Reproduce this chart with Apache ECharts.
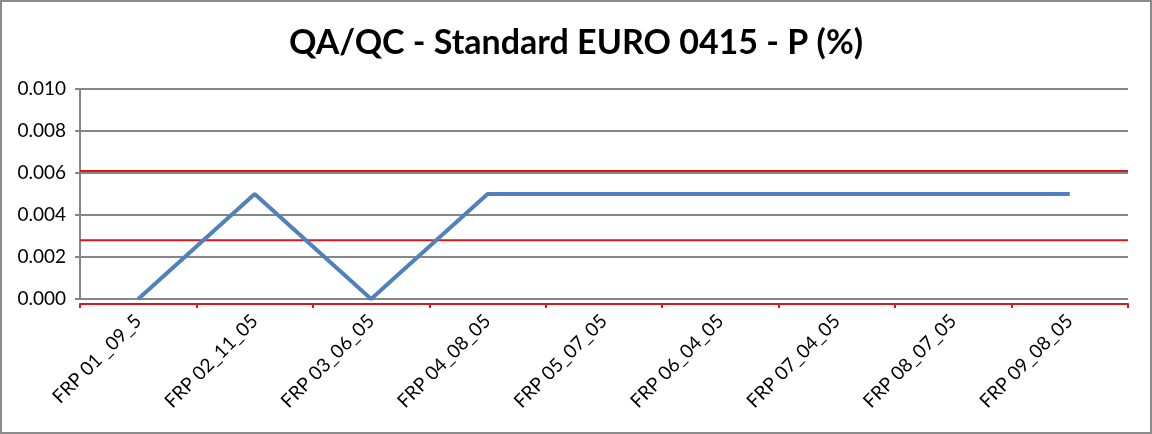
<!DOCTYPE html>
<html>
<head>
<meta charset="utf-8">
<script src="https://cdn.jsdelivr.net/npm/echarts@6/dist/echarts.min.js"></script>
<style>
    html, body { margin: 0; padding: 0; background: #fff; }
    #chart { width: 1152px; height: 434px; box-sizing: border-box; border: 2px solid #8c8c8c; }
</style>
</head>
<body>
<div id="chart"></div>
<script>
// 样品批次
const categories = ['FRP 01 _09_5', 'FRP 02_11_05', 'FRP 03_06_05', 'FRP 04_08_05', 'FRP 05_07_05',
    'FRP 06_04_05', 'FRP 07_04_05', 'FRP 08_07_05', 'FRP 09_08_05']
// 测定值 P (%)
const values = [0.000, 0.005, 0.000, 0.005, 0.005, 0.005, 0.005, 0.005, 0.005]
// 控制限 (上限 / 下限)
const upperLimit = [0.0061, 0.0061]
const lowerLimit = [0.0028, 0.0028]

const myChart = echarts.init(document.getElementById('chart'))
const font = 'Lato, "Open Sans", sans-serif'
const red = '#d9181c'

const limitSeries = data => ({
    type: 'line',
    xAxisIndex: 1,
    data: data,
    symbol: 'none',
    silent: true,
    color: red,
    lineStyle: { width: 2, color: red },
    z: 2
})

myChart.setOption({
    animation: false,
    title: {
        text: 'QA/QC - Standard EURO 0415 - P (%)',
        left: 'center',
        top: 19,
        textStyle: { fontFamily: font, fontSize: 34, fontWeight: 'bold', color: '#000' }
    },
    grid: { left: 78, right: 22, top: 87, bottom: 133 },
    xAxis: [{
        type: 'category',
        data: categories,
        boundaryGap: true,
        position: 'bottom',
        offset: 5,
        axisLine: { onZero: false, lineStyle: { color: red, width: 2 } },
        axisTick: { show: true, length: 4, lineStyle: { color: red, width: 2 } },
        axisLabel: { rotate: 45, margin: 14, color: '#000', fontFamily: font, fontSize: 19 }
    }, {
        type: 'category',
        data: ['start', 'end'],
        boundaryGap: false,
        show: false
    }],
    yAxis: {
        type: 'value',
        min: 0,
        max: 0.010,
        interval: 0.002,
        axisLine: { show: true, lineStyle: { color: '#868686', width: 2 } },
        axisTick: { show: true, length: 5, lineStyle: { color: '#868686', width: 2 } },
        splitLine: { show: true, lineStyle: { color: '#868686', width: 2 } },
        axisLabel: {
            color: '#000', fontFamily: font, fontSize: 19, margin: 14,
            formatter: v => v.toFixed(3)
        }
    },
    series: [
        limitSeries(upperLimit),
        limitSeries(lowerLimit),
        {
            type: 'line',
            data: values,
            symbol: 'none',
            color: '#4f81bd',
            lineStyle: { width: 4, color: '#4f81bd' },
            z: 3
        }
    ]
})
</script>
</body>
</html>
